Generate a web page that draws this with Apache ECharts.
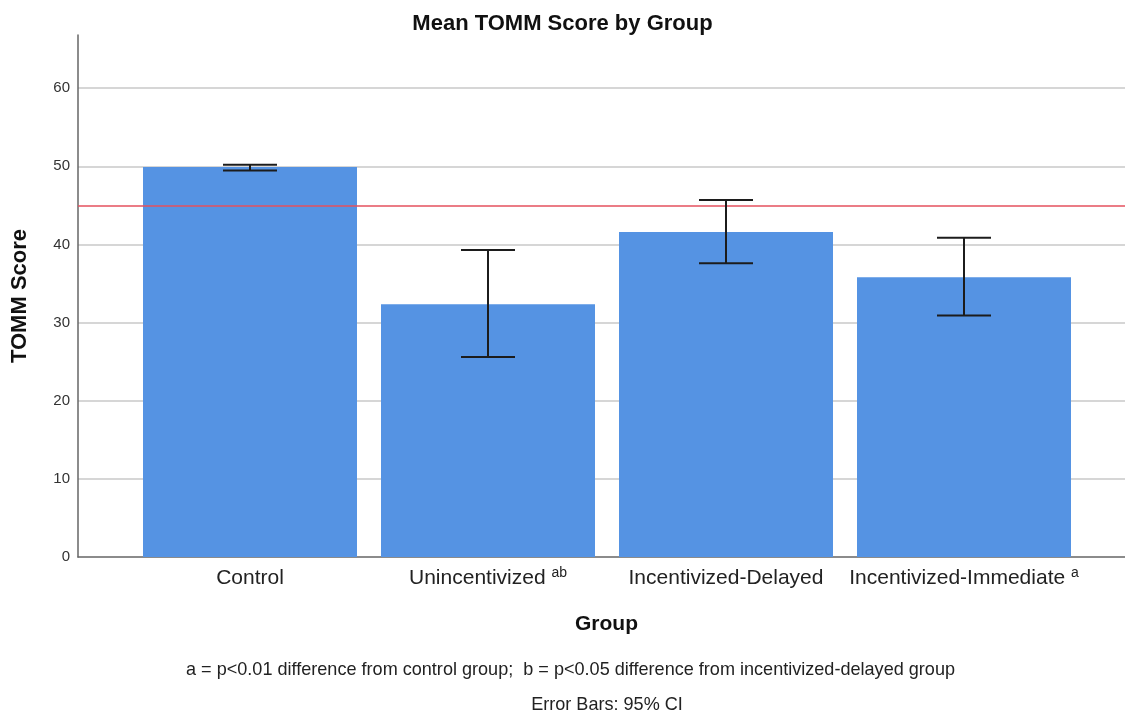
<!DOCTYPE html>
<html>
<head>
<meta charset="utf-8">
<script src="https://cdn.jsdelivr.net/npm/echarts@6/dist/echarts.min.js"></script>
<style>html,body{margin:0;padding:0;background:#fff;}#c{width:1125px;height:713px;}</style>
</head>
<body>
<div id="c"></div>
<script>
const categories = ['Control', 'Unincentivized', 'Incentivized-Delayed', 'Incentivized-Immediate'];
const superscripts = ['', 'ab', '', 'a'];
const means = [49.9, 32.35, 41.6, 35.8];
const ciLower = [49.45, 25.6, 37.6, 30.9];
const ciUpper = [50.2, 39.3, 45.7, 40.85];
const cutoff = 45;
const yTicks = [0, 10, 20, 30, 40, 50, 60];
const yMax = 66.8;
const footnote1 = 'a = p<0.01 difference from control group;  b = p<0.05 difference from incentivized-delayed group';
const footnote2 = 'Error Bars: 95% CI';

const FONT = '"Liberation Sans", Arial, sans-serif';
const NOTE_SIZE = 19;
const chart = echarts.init(document.getElementById('c'), null, {renderer: 'canvas'});

const mctx = document.createElement('canvas').getContext('2d');
mctx.font = NOTE_SIZE + 'px "Liberation Sans"';
const w1 = mctx.measureText(footnote1).width;
const w2 = mctx.measureText(footnote2).width;
const noteScale = 769 / w1;

const gridTop = 35, gridBottom = 713 - 557;

chart.setOption({
  backgroundColor: '#fff',
  animation: false,
  title: [
    {text: 'Mean TOMM Score by Group', left: 'center', top: 8,
     textStyle: {fontFamily: FONT, fontSize: 22, fontWeight: 'bold', color: '#111'}}
  ],
  graphic: [
    {type: 'text', x: 186, y: 660, scaleX: noteScale, originX: 0, silent: true,
     style: {text: footnote1, font: NOTE_SIZE + 'px "Liberation Sans"', fill: '#222'}},
    {type: 'text', x: 607 - w2 * noteScale / 2, y: 695, scaleX: noteScale, originX: 0, silent: true,
     style: {text: footnote2, font: NOTE_SIZE + 'px "Liberation Sans"', fill: '#222'}}
  ],
  grid: [
    {left: 78, right: 0, top: gridTop, bottom: gridBottom, containLabel: false},
    {left: 131, right: 42, top: gridTop, bottom: gridBottom, containLabel: false}
  ],
  xAxis: [
    {type: 'value', gridIndex: 0, min: 0, max: 1,
     name: 'Group', nameLocation: 'middle', nameGap: 57,
     nameTextStyle: {fontFamily: FONT, fontSize: 21, fontWeight: 'bold', color: '#111', padding: [0, 0, 0, 10]},
     axisLine: {show: true, lineStyle: {color: '#666', width: 1.5}},
     axisTick: {show: false}, axisLabel: {show: false}, splitLine: {show: false}},
    {type: 'category', gridIndex: 1, data: categories,
     axisLine: {show: false}, axisTick: {show: false}, splitLine: {show: false},
     axisLabel: {
       margin: 9, interval: 0,
       formatter: function (v, i) {
         return superscripts[i] ? '{n|' + v + ' }{s|' + superscripts[i] + '}' : '{n|' + v + '}';
       },
       rich: {
         n: {fontFamily: FONT, fontSize: 21, lineHeight: 24, color: '#222'},
         s: {fontFamily: FONT, fontSize: 14, lineHeight: 14, color: '#222', verticalAlign: 'top'}
       }
     }}
  ],
  yAxis: [
    {type: 'value', gridIndex: 0, min: 0, max: yMax, interval: 10,
     name: 'TOMM Score', nameLocation: 'middle', nameGap: 47,
     nameTextStyle: {fontFamily: FONT, fontSize: 22, fontWeight: 'bold', color: '#111'},
     axisLine: {show: true, lineStyle: {color: '#666', width: 1.5}},
     axisTick: {show: false},
     axisLabel: {margin: 8, fontFamily: FONT, fontSize: 15, color: '#333', showMaxLabel: false,
       formatter: function (v) { return yTicks.indexOf(v) >= 0 ? String(v) : ''; }},
     splitLine: {show: true, showMaxLine: false, showMinLine: false, lineStyle: {color: '#c8c8c8', width: 1.5}}},
    {type: 'value', gridIndex: 1, min: 0, max: yMax, interval: 10, show: false,
     splitLine: {show: false}}
  ],
  series: [
    {type: 'bar', xAxisIndex: 1, yAxisIndex: 1, data: means, barWidth: 214,
     itemStyle: {color: '#5593e3'}, z: 2},
    {type: 'custom', xAxisIndex: 1, yAxisIndex: 1, z: 5,
     data: categories.map((c, i) => [i, ciLower[i], ciUpper[i]]),
     renderItem: function (params, api) {
       const lo = api.coord([api.value(0), api.value(1)]);
       const hi = api.coord([api.value(0), api.value(2)]);
       const hw = 27;
       const st = {stroke: '#1c1c1c', lineWidth: 2};
       return {type: 'group', children: [
         {type: 'line', shape: {x1: lo[0], y1: lo[1], x2: hi[0], y2: hi[1]}, style: st},
         {type: 'line', shape: {x1: lo[0] - hw, y1: lo[1], x2: lo[0] + hw, y2: lo[1]}, style: st},
         {type: 'line', shape: {x1: hi[0] - hw, y1: hi[1], x2: hi[0] + hw, y2: hi[1]}, style: st}
       ]};
     }},
    {type: 'line', xAxisIndex: 0, yAxisIndex: 0, data: [], z: 6,
     markLine: {silent: true, symbol: 'none', label: {show: false},
       lineStyle: {color: '#e4505e', width: 1.5, type: 'solid'},
       data: [{yAxis: cutoff}]}}
  ]
});
</script>
</body>
</html>
